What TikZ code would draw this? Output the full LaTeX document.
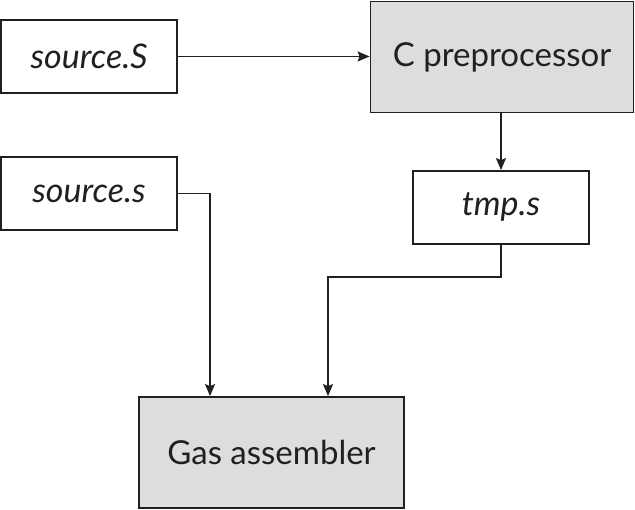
\documentclass[tikz,border=0pt]{standalone}
\usepackage{fontspec}
\setmainfont{Lato}
\usetikzlibrary{arrows.meta}
\definecolor{boxgray}{HTML}{DCDDDF}
\definecolor{ink}{HTML}{231F20}
\begin{document}
\begin{tikzpicture}[x=1pt,y=-1pt,
  box/.style={draw=ink,line width=1.8pt,minimum width=#1,inner sep=0pt,font=\fontsize{33}{38}\selectfont,text=ink},
  filebox/.style={box=176pt,minimum height=73pt,font=\fontsize{34}{38}\selectfont\itshape},
  procbox/.style={box=#1,fill=boxgray,minimum height=111pt},
  conn/.style={draw=ink,line width=1.3pt,-{Stealth[length=12pt,width=10pt,inset=2pt]}}]
\useasboundingbox (0,0) rectangle (635,510);
\node[filebox] (srcS) at (89,56.5) {source.S};
\node[procbox=263pt] (cpp) at (502,57) {C preprocessor};
\node[filebox] (srcs) at (89,193.5) {source.s};
\node[filebox] (tmp) at (501,207.5) {tmp.s};
\node[procbox=265pt] (gas) at (271.5,452.5) {Gas assembler};
\coordinate (ga) at (210,0);
\coordinate (gb) at (328,0);
\draw[conn] (srcS.east) -- (srcS.east -| cpp.west);
\draw[conn] (cpp.south -| tmp) -- (tmp.north);
\draw[conn] (srcs.east) -| (ga |- gas.north);
\draw[conn] (tmp.south) -- ++(0,32) -| (gb |- gas.north);
\end{tikzpicture}
\end{document}
